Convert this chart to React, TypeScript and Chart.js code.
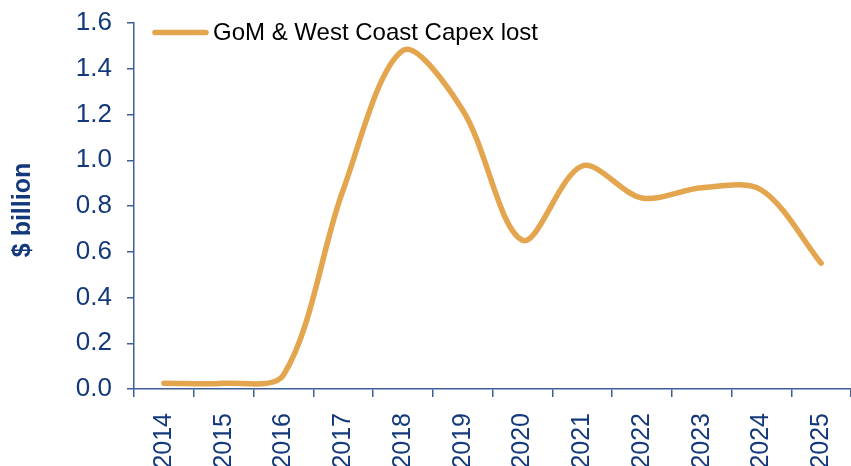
import React, { useEffect, useRef } from "react";
import { Chart, registerables } from "chart.js";

Chart.register(...registerables);

const years = ["2014", "2015", "2016", "2017", "2018", "2019", "2020", "2021", "2022", "2023", "2024", "2025"];
const capexLost = [0.025, 0.025, 0.06, 0.87, 1.48, 1.22, 0.65, 0.975, 0.835, 0.88, 0.87, 0.55];
const seriesName = "GoM & West Coast Capex lost";
const yTitle = "$ billion";
const yMax = 1.6;
const yStep = 0.2;

const BLUE = "#13397c";
const AXIS = "#3d5e98";
const LINE = "#e3a54e";

export default function App() {
  const ref = useRef<HTMLCanvasElement | null>(null);

  useEffect(() => {
    if (!ref.current) return;
    const overlay = {
      id: "overlay",
      afterDraw(chart: any) {
        const ctx = chart.ctx;
        ctx.save();
        ctx.fillStyle = BLUE;
        ctx.font = "bold 25px 'Liberation Sans', Arial, sans-serif";
        ctx.textAlign = "center";
        ctx.textBaseline = "middle";
        ctx.translate(23, 210);
        ctx.rotate(-Math.PI / 2);
        ctx.fillText(yTitle, 0, 0);
        ctx.restore();
        ctx.save();
        ctx.strokeStyle = LINE;
        ctx.lineWidth = 5.5;
        ctx.lineCap = "round";
        ctx.beginPath();
        ctx.moveTo(155, 32.5);
        ctx.lineTo(206, 32.5);
        ctx.stroke();
        ctx.fillStyle = "#000000";
        ctx.font = "24px 'Liberation Sans', Arial, sans-serif";
        ctx.textAlign = "left";
        ctx.textBaseline = "middle";
        ctx.fillText(seriesName, 213, 33);
        ctx.restore();
      },
    };
    const chart = new Chart(ref.current, {
      type: "line",
      data: {
        labels: years,
        datasets: [
          {
            label: seriesName,
            data: capexLost,
            borderColor: LINE,
            borderWidth: 5.5,
            pointRadius: 0,
            tension: 0.32,
            fill: false,
            borderCapStyle: "round",
            borderJoinStyle: "round",
          },
        ],
      },
      options: {
        responsive: false,
        animation: false,
        layout: { padding: { top: 23, right: 0, left: 0, bottom: 0 } },
        plugins: { legend: { display: false }, tooltip: { enabled: false } },
        scales: {
          x: {
            type: "category",
            offset: true,
            grid: { offset: true, drawOnChartArea: false, drawTicks: true, tickLength: 8, color: AXIS, lineWidth: 1.5 },
            border: { display: true, color: AXIS, width: 1.5 },
            ticks: {
              color: BLUE,
              font: { size: 25, family: "'Liberation Sans', Arial, sans-serif" },
              maxRotation: 90,
              minRotation: 90,
              padding: 16,
              autoSkip: false,
            },
            afterFit(scale: any) {
              scale.height = 77;
              scale.paddingLeft = 0;
              scale.paddingRight = 0;
            },
          },
          y: {
            min: 0,
            max: yMax,
            grid: { drawOnChartArea: false, drawTicks: true, tickLength: 7, color: AXIS, lineWidth: 1.5 },
            border: { display: true, color: AXIS, width: 1.5 },
            ticks: {
              stepSize: yStep,
              color: BLUE,
              padding: 15,
              font: { size: 26, family: "'Liberation Sans', Arial, sans-serif" },
              callback: (v: any) => Number(v).toFixed(1),
            },
            afterFit(scale: any) {
              scale.width = 134;
              scale.paddingTop = 0;
              scale.paddingBottom = 0;
            },
          },
        },
      },
      plugins: [overlay],
    } as any);
    return () => chart.destroy();
  }, []);

  return (
    <div style={{ position: "fixed", left: 0, top: 0, width: 851, height: 466, background: "#fff" }}>
      <canvas ref={ref} width={851} height={466} style={{ width: 851, height: 466, display: "block" }} />
    </div>
  );
}
